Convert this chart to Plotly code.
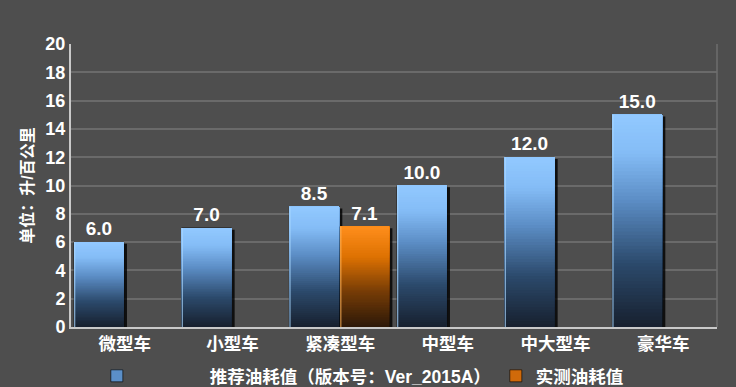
import plotly.graph_objects as go

categories = ["微型车", "小型车", "紧凑型车", "中型车", "中大型车", "豪华车"]
recommended = [6.0, 7.0, 8.5, 10.0, 12.0, 15.0]
measured = [None, None, 7.1, None, None, None]
series_names = ["推荐油耗值（版本号：Ver_2015A）", "实测油耗值"]
y_title = "单位：升/百公里"

FONT = "Liberation Sans, Arial, Noto Sans CJK SC, sans-serif"
BG = "#4e4e4e"

blue_stops = [(0.0, (23, 32, 46)), (0.3, (44, 74, 108)), (0.6, (92, 142, 198)),
              (0.82, (132, 188, 246)), (1.0, (146, 201, 255))]
orange_stops = [(0.0, (44, 24, 8)), (0.35, (118, 60, 6)), (0.7, (222, 114, 2)),
                (1.0, (255, 142, 28))]


def grad(stops, t):
    for (t0, c0), (t1, c1) in zip(stops[:-1], stops[1:]):
        if t <= t1:
            f = (t - t0) / (t1 - t0) if t1 > t0 else 0
            c = [round(a + (b - a) * f) for a, b in zip(c0, c1)]
            return "rgb(%d,%d,%d)" % tuple(c)
    return "rgb(%d,%d,%d)" % stops[-1][1]


fig = go.Figure()
N = 60


def add_series(values, stops, offset, width, legend_color, legend_name, edge_color):
    vals = list(values)
    # shadow
    fig.add_trace(go.Bar(
        x=categories, y=[v - 0.12 if v is not None else None for v in vals],
        offset=offset + 0.03, width=width, marker=dict(color="rgba(0,0,0,0.8)", line=dict(width=0)),
        showlegend=False, hoverinfo="skip"))
    # legend + label carrier
    fig.add_trace(go.Bar(
        x=categories, y=vals, name=legend_name, offset=offset, width=width,
        marker=dict(color=legend_color, line=dict(color="rgba(0,0,0,0.6)", width=1)),
        text=["%.1f" % v if v is not None else "" for v in vals],
        textposition="outside", cliponaxis=False,
        textfont=dict(family=FONT, size=19, color="white", weight="bold"),
        showlegend=True))
    # gradient slices
    for k in range(N):
        t = (k + 0.5) / N
        fig.add_trace(go.Bar(
            x=categories,
            base=[v * k / N if v is not None else None for v in vals],
            y=[v * (N - k) / N if v is not None else None for v in vals],
            offset=offset, width=width,
            marker=dict(color=grad(stops, t), line=dict(width=0)),
            showlegend=False, hoverinfo="skip"))
    # light left edge
    fig.add_trace(go.Bar(
        x=categories, y=vals, offset=offset, width=0.012,
        marker=dict(color=edge_color, line=dict(width=0)),
        showlegend=False, hoverinfo="skip"))


pad = "\u00a0" * 15
add_series(recommended, blue_stops, -0.472, 0.462, "#5b8fc8",
           pad + series_names[0], "rgba(170,215,255,0.7)")
add_series(measured, orange_stops, 0.0, 0.455, "#d06a0a", series_names[1],
           "rgba(255,180,90,0.7)")

fig.update_layout(
    width=736, height=387,
    margin=dict(l=71, r=19, t=44, b=60, autoexpand=False),
    paper_bgcolor=BG, plot_bgcolor=BG,
    barmode="overlay",
    font=dict(family=FONT, color="white"),
    showlegend=True,
    legend=dict(orientation="h", x=0.04, xanchor="left", y=-0.173,
                yanchor="middle",
                font=dict(family=FONT, size=17.5, color="white", weight="bold"),
                bgcolor="rgba(0,0,0,0)"),
    shapes=[dict(type="line", xref="paper", yref="paper", x0=1, x1=1, y0=0, y1=1,
                 line=dict(color="#6e6e6e", width=1.5))],
)
fig.update_xaxes(type="category", range=[-0.5, 5.5], showline=True, linecolor="#c9c9c9",
                 linewidth=2, ticks="", showgrid=False, automargin=False,
                 tickfont=dict(family=FONT, size=17.5, color="white", weight="bold"))
fig.update_yaxes(range=[0, 20], dtick=2, showline=True, linecolor="#c9c9c9", linewidth=2,
                 ticks="", ticklen=0, showgrid=True, gridcolor="#6a6a6a", gridwidth=1.5,
                 zeroline=False, automargin=False,
                 tickfont=dict(family=FONT, size=18, color="white", weight="bold"),
                 ticklabelstandoff=0,
                 title=dict(text=y_title, standoff=8,
                            font=dict(family=FONT, size=16, color="white", weight="bold")))

fig.write_html("out.html", config={"displayModeBar": False},
               post_script="document.body.style.margin='0';document.body.style.background='%s';" % BG)
